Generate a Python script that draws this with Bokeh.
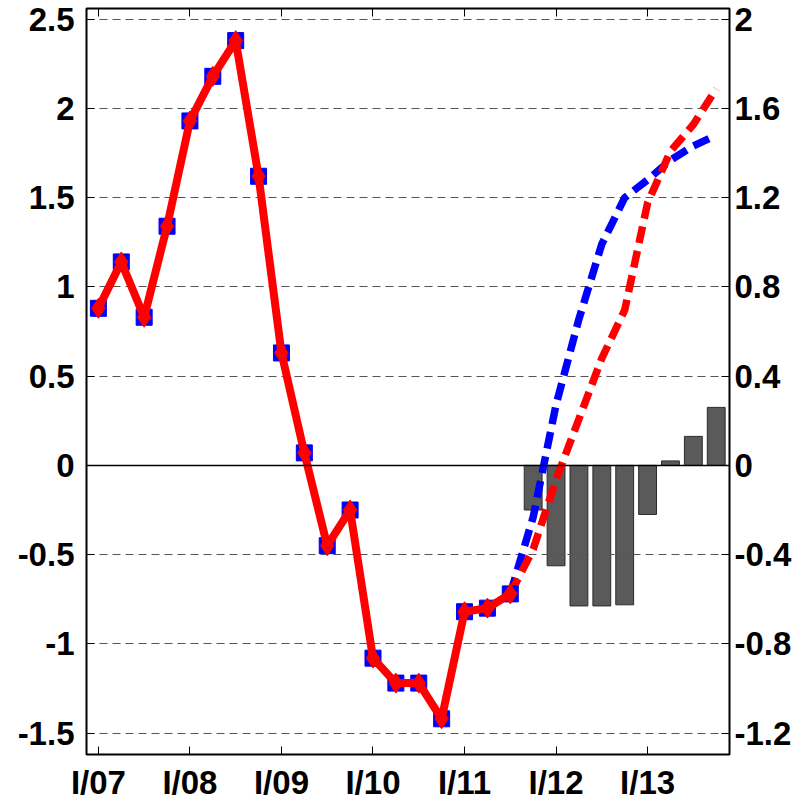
from bokeh.plotting import figure
from bokeh.models import Range1d, LinearAxis, FixedTicker, Span
from bokeh.embed import file_html
from bokeh.resources import INLINE

# ---- data (x = quarter index, 0 = I/07) ----
hist_q = list(range(0, 19))
hist_vals = [0.88, 1.14, 0.83, 1.34, 1.93, 2.18, 2.38, 1.62, 0.63, 0.07,
             -0.45, -0.25, -1.08, -1.22, -1.22, -1.42, -0.82, -0.80, -0.72]

proj_q = list(range(18, 28))
proj_blue = [-0.72, -0.29, 0.34, 0.82, 1.24, 1.50, 1.60, 1.71, 1.79, 1.85]
proj_red = [-0.72, -0.47, -0.08, 0.26, 0.60, 0.87, 1.47, 1.76, 1.91, 2.11]

bar_q = list(range(19, 28))
bar_vals = [-0.20, -0.45, -0.63, -0.63, -0.625, -0.22, 0.02, 0.13, 0.26]  # right axis

x_ticks = [0, 4, 8, 12, 16, 20, 24]
x_labels = ["I/07", "I/08", "I/09", "I/10", "I/11", "I/12", "I/13"]
left_ticks = [-1.5, -1, -0.5, 0, 0.5, 1, 1.5, 2, 2.5]
left_labels = ["-1.5", "-1", "-0.5", "0", "0.5", "1", "1.5", "2", "2.5"]
right_ticks = [-1.2, -0.8, -0.4, 0, 0.4, 0.8, 1.2, 1.6, 2.0]
right_labels = ["-1.2", "-0.8", "-0.4", "0", "0.4", "0.8", "1.2", "1.6", "2"]

left_lo, left_hi = -1.62, 2.56
ratio = 0.8

FONT = "Liberation Sans"
FS = "33px"

p = figure(frame_width=643, frame_height=746,
           x_range=Range1d(-0.52, 27.58), y_range=Range1d(left_lo, left_hi),
           output_backend="svg", toolbar_location=None,
           min_border_left=86, min_border_right=70, min_border_top=8, min_border_bottom=46)
p.extra_y_ranges = {"right": Range1d(left_lo * ratio, left_hi * ratio)}

p.outline_line_color = "black"
p.outline_line_width = 2
p.background_fill_color = "white"
p.border_fill_color = "white"

# grid
p.xgrid.visible = False
p.ygrid.ticker = FixedTicker(ticks=left_ticks)
p.ygrid.grid_line_color = "#555555"
p.ygrid.grid_line_dash = "8 5"
p.ygrid.grid_line_width = 1

def style_axis(ax, ticks, labels, standoff):
    ax.ticker = FixedTicker(ticks=ticks)
    ax.major_label_overrides = {t: l for t, l in zip(ticks, labels)}
    ax.major_label_text_font = FONT
    ax.major_label_text_font_size = FS
    ax.major_label_text_font_style = "bold"
    ax.major_label_text_color = "black"
    ax.major_label_standoff = standoff
    ax.major_tick_in = 8
    ax.major_tick_out = 0
    ax.major_tick_line_color = "black"
    ax.major_tick_line_width = 1
    ax.minor_tick_line_color = None
    ax.axis_line_color = None

style_axis(p.xaxis[0], x_ticks, x_labels, 9)
style_axis(p.yaxis[0], left_ticks, left_labels, 12)

right_axis = LinearAxis(y_range_name="right")
style_axis(right_axis, right_ticks, right_labels, 5)
p.add_layout(right_axis, "right")

top_axis = LinearAxis()
style_axis(top_axis, x_ticks, x_labels, 0)
top_axis.major_label_text_font_size = "0px"
top_axis.major_label_text_alpha = 0
p.add_layout(top_axis, "above")

# bars (right axis), under the grid
bars = p.vbar(x=bar_q, top=bar_vals, width=0.78, bottom=0, y_range_name="right",
              fill_color="#5a5a5a", line_color="#2a2a2a", line_width=1)
bars.level = "image"

# zero line
p.add_layout(Span(location=0, dimension="width", line_color="black", line_width=1.5))

# projections
p.line(proj_q, proj_blue, line_color="#0000ff", line_width=7.5, line_dash="17 8")
p.line(proj_q, proj_red, line_color="#ff0000", line_width=7.5, line_dash="17 8")

# history
p.scatter(hist_q, hist_vals, marker="square", size=16, fill_color="#0000ff", line_color="#0000ff")
p.line(hist_q, hist_vals, line_color="#ff0000", line_width=8)
p.scatter(hist_q, hist_vals, marker="diamond", size=20, fill_color="#ff0000", line_color="#ff0000")

open("out.html", "w").write(file_html(p, INLINE))
